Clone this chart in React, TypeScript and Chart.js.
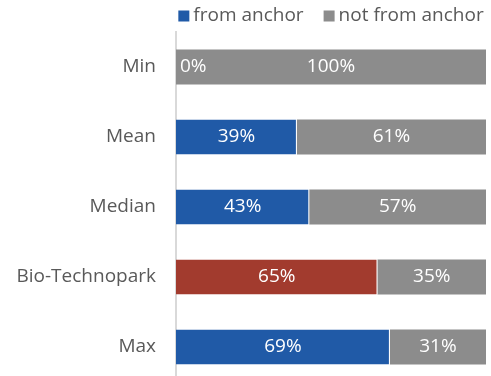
import React, { useEffect, useRef } from "react";
import { Chart, registerables } from "chart.js";

Chart.register(...registerables);

const categories = ["Min", "Mean", "Median", "Bio-Technopark", "Max"];
const fromAnchor = [0, 39, 43, 65, 69];
const notFromAnchor = [100, 61, 57, 35, 31];
const seriesNames = ["from anchor", "not from anchor"];

const BLUE = "#205AA7";
const RED = "#A23B2E";
const GRAY = "#8C8C8C";
const FONT = "'Open Sans', 'Liberation Sans', sans-serif";
const FS = 19;

export default function App() {
  const ref = useRef<HTMLCanvasElement | null>(null);

  useEffect(() => {
    if (!ref.current) return;
    const labelPlugin = {
      id: "segLabels",
      afterDatasetsDraw(chart: any) {
        const ctx = chart.ctx;
        ctx.save();
        ctx.font = `${FS}px ${FONT}`;
        ctx.fillStyle = "#FFFFFF";
        ctx.textBaseline = "middle";
        chart.data.datasets.forEach((ds: any, di: number) => {
          const meta = chart.getDatasetMeta(di);
          meta.data.forEach((el: any, i: number) => {
            const v = ds.data[i];
            const txt = `${v}%`;
            const w = Math.abs(el.x - el.base);
            if (w < 30) {
              ctx.textAlign = "left";
              ctx.fillText(txt, Math.min(el.x, el.base) + 4, el.y);
            } else {
              ctx.textAlign = "center";
              ctx.fillText(txt, (el.x + el.base) / 2, el.y);
            }
          });
        });
        ctx.restore();
      },
    };
    const legendPlugin = {
      id: "customLegend",
      afterDraw(chart: any) {
        const ctx = chart.ctx;
        const area = chart.chartArea;
        ctx.save();
        ctx.font = `${FS}px ${FONT}`;
        ctx.textBaseline = "middle";
        const colors = [BLUE, GRAY];
        const box = 11;
        const gapBox = 4;
        const gapItem = 20;
        const widths = seriesNames.map((n) => box + gapBox + ctx.measureText(n).width);
        const total = widths.reduce((a, b) => a + b, 0) + gapItem;
        let x = (area.left + area.right) / 2 - total / 2;
        const y = 16;
        seriesNames.forEach((n, i) => {
          ctx.fillStyle = colors[i];
          ctx.fillRect(x, y - box / 2, box, box);
          ctx.fillStyle = "#595959";
          ctx.textAlign = "left";
          ctx.fillText(n, x + box + gapBox, y);
          x += widths[i] + gapItem;
        });
        ctx.restore();
      },
    };
    const chart = new Chart(ref.current, {
      type: "bar",
      data: {
        labels: categories,
        datasets: [
          {
            label: seriesNames[0],
            data: fromAnchor,
            backgroundColor: categories.map((c) => (c === "Bio-Technopark" ? RED : BLUE)),
            borderColor: "#FFFFFF",
            borderWidth: { right: 1 },
            barPercentage: 0.5,
            categoryPercentage: 1,
          },
          {
            label: seriesNames[1],
            data: notFromAnchor,
            backgroundColor: GRAY,
            barPercentage: 0.5,
            categoryPercentage: 1,
          },
        ],
      },
      options: {
        indexAxis: "y",
        animation: false,
        responsive: true,
        maintainAspectRatio: false,
        layout: { padding: { top: 32, right: 5, bottom: 8, left: 0 } },
        plugins: {
          legend: { display: false },
          tooltip: { enabled: false },
        },
        scales: {
          x: {
            stacked: true,
            min: 0,
            max: 100,
            display: false,
          },
          y: {
            stacked: true,
            grid: { display: false, drawTicks: false },
            border: { display: true, color: "#D9D9D9", width: 2 },
            ticks: {
              color: "#595959",
              font: { family: FONT, size: FS },
              padding: 20,
            },
            afterFit(scale: any) {
              scale.width = 176;
              scale.paddingTop = 0;
              scale.paddingBottom = 0;
            },
          },
        },
      },
      plugins: [labelPlugin, legendPlugin],
    });
    return () => chart.destroy();
  }, []);

  return (
    <div
      style={{
        position: "fixed",
        left: 0,
        top: 0,
        width: 491,
        height: 376,
        overflow: "hidden",
        background: "#FFFFFF",
      }}
    >
      <div style={{ position: "relative", width: 491, height: 390 }}>
        <canvas ref={ref} />
      </div>
    </div>
  );
}
